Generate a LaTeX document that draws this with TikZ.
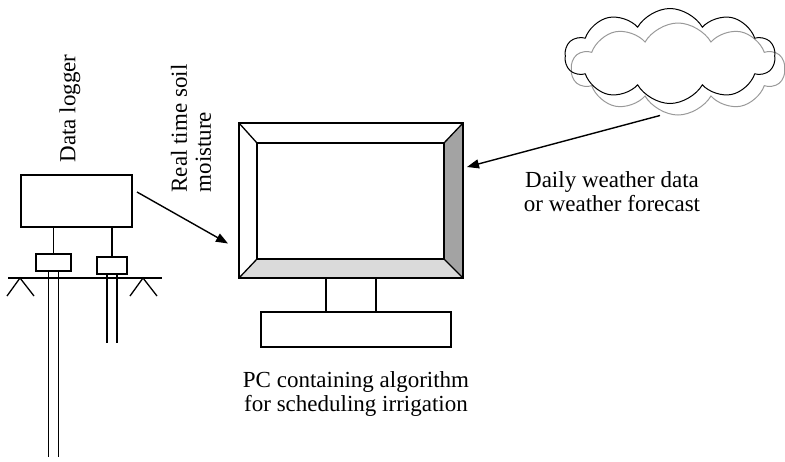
\documentclass[tikz,border=0pt]{standalone}
\usepackage{fontspec}
\setmainfont{Liberation Serif}
\usetikzlibrary{arrows.meta,calc,positioning,backgrounds,shapes.symbols}
\definecolor{bezelgrey}{HTML}{A3A3A3}
\definecolor{bezellight}{HTML}{DADADA}
\definecolor{cloudgrey}{HTML}{999999}

\begin{document}
\begin{tikzpicture}[x=1pt, y=-1pt, line width=1.3pt, font=\fontsize{23}{24}\selectfont]
  \tikzset{box/.style={draw, rectangle, inner sep=0pt, outer sep=0pt, anchor=north west},
    flow/.style={-{Triangle[length=12pt,width=9pt]}, line width=1.4pt},
    tag/.style={inner sep=0pt},
    puffy/.style={cloud, cloud puffs=10, cloud puff arc=120, cloud ignores aspect, line width=1pt}}
  \useasboundingbox (0,0) rectangle (785,461);

  % logger with its two probes in the soil
  \node[box, minimum width=111pt, minimum height=52pt] (logger) at (21,175) {};
  \node[box, minimum width=35pt, minimum height=17pt] (probeA) at (36,254) {};
  \node[box, minimum width=30pt, minimum height=17pt] (probeB) at (97,257) {};
  \draw (logger.south -| probeA.north) -- (probeA.north);
  \draw (logger.south -| probeB.north) -- (probeB.north);
  \foreach \dx in {-5,5} {
    \draw ([xshift=\dx pt]probeA.south) -- ++(0,186);
    \draw ([xshift=\dx pt]probeB.south) -- ++(0,69);
  }
  % ground surface
  \draw (8,278) -- (162,278);
  \foreach \gx in {20,143}
    \draw (\gx-13,296) -- (\gx,278) -- (\gx+14,296);

  % monitor
  \node[box, minimum width=224pt, minimum height=155pt] (screen) at (239,123) {};
  \node[box, minimum width=187pt, minimum height=116pt] (glass) at (257,143) {};
  \begin{scope}[on background layer]
    \fill[bezelgrey] (screen.north east) -- (glass.north east) -- (glass.south east) -- (screen.south east) -- cycle;
    \fill[bezellight] (screen.south west) -- (glass.south west) -- (glass.south east) -- (screen.south east) -- cycle;
  \end{scope}
  \foreach \c in {north west, north east, south west, south east}
    \draw (screen.\c) -- (glass.\c);
  \node[box, minimum width=190pt, minimum height=35pt] (stand) at (261,312) {};
  \foreach \dx in {-25,25}
    \draw ([xshift=\dx pt]screen.south) -- ([xshift=\dx pt]screen.south |- stand.north);

  % weather cloud
  \node[puffy, draw=cloudgrey, minimum width=213pt, minimum height=92pt] (haze) at (678,69) {};
  \node[puffy, draw=black, minimum width=210pt, minimum height=95pt] (sky) at (670,56) {};

  % data flows
  \draw[flow] ([shift={(5,-9)}]logger.east) -- ([shift={(-11,43)}]screen.west);
  \draw[flow] ([shift={(-18,0)}]haze.south) -- ([shift={(4,44)}]screen.north east);

  % labels
  \node[tag, rotate=90, anchor=west] (loggertag) at (70,163) {Data logger};
  \node[tag, rotate=90, anchor=west, align=left] (soiltag) at (191,193) {Real time soil\\moisture};
  \node[tag, align=center] (weathertag) at (612,192) {Daily weather data\\or weather forecast};
  \node[tag, align=center] (pctag) at (356,394) {PC containing algorithm\\for scheduling irrigation};
\end{tikzpicture}
\end{document}
